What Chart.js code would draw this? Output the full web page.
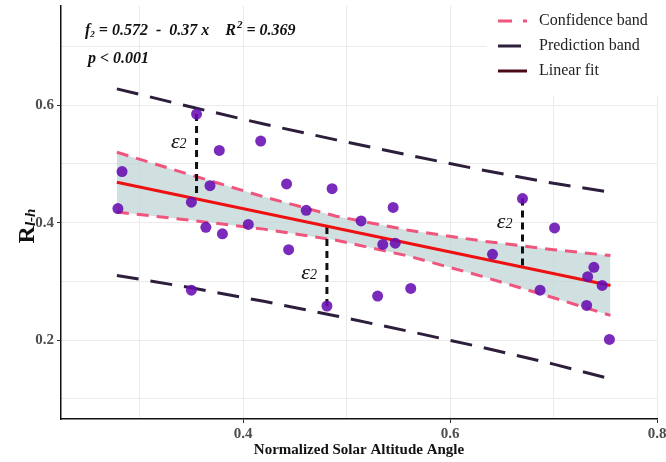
<!DOCTYPE html>
<html>
<head>
<meta charset="UTF-8">
<title>R l-h vs Normalized Solar Altitude Angle</title>
<script src="https://cdn.jsdelivr.net/npm/chart.js"></script>
<style>
  html, body { margin: 0; padding: 0; background: #fff; }
  #wrap { width: 666px; height: 462px; }
</style>
</head>
<body>
<div id="wrap"><canvas id="chart"></canvas></div>
<script>
  // observed points
  const pointX = [0.355, 0.417, 0.377, 0.283, 0.442, 0.486, 0.368, 0.461, 0.350, 0.279,
                  0.405, 0.364, 0.380, 0.444, 0.350, 0.481, 0.545, 0.514, 0.535, 0.547,
                  0.641, 0.562, 0.530, 0.670, 0.701, 0.739, 0.733, 0.747, 0.687, 0.732, 0.754];
  const pointY = [0.585, 0.539, 0.523, 0.487, 0.466, 0.458, 0.463, 0.421, 0.435, 0.424,
                  0.397, 0.392, 0.381, 0.354, 0.285, 0.258, 0.426, 0.403, 0.363, 0.365,
                  0.346, 0.288, 0.275, 0.441, 0.391, 0.324, 0.308, 0.293, 0.285, 0.259, 0.201];

  // bands
  const bandX     = [0.278, 0.35, 0.42, 0.49, 0.56, 0.63, 0.70, 0.755];
  const confUpper = [0.520, 0.481, 0.444, 0.411, 0.387, 0.369, 0.354, 0.344];
  const confLower = [0.418, 0.404, 0.389, 0.370, 0.343, 0.309, 0.272, 0.242];
  const predUpper = [0.628, 0.597, 0.568, 0.541, 0.515, 0.490, 0.467, 0.452];
  const predLower = [0.310, 0.289, 0.266, 0.241, 0.215, 0.188, 0.159, 0.134];

  // linear fit
  const fitX = [0.278, 0.755];
  const fitY = [0.469, 0.293];

  // residuals marked with epsilon
  const residX      = [0.355, 0.481, 0.670];
  const residPointY = [0.585, 0.258, 0.441];
  const residFitY   = [0.441, 0.394, 0.324];
  const residLabelY = [0.537, 0.314, 0.400];

  const xTicks = [0.4, 0.6, 0.8];
  const yTicks = [0.2, 0.4, 0.6];
  const xGrid = [0.3, 0.4, 0.5, 0.6, 0.7, 0.8];
  const yGrid = [0.1, 0.2, 0.3, 0.4, 0.5, 0.6, 0.7];

  const serif = "'Liberation Serif', 'DejaVu Serif', serif";
  const zip = (xs, ys) => xs.map((v, i) => ({ x: v, y: ys[i] }));
  const isMajor = (list, v) => list.some(t => Math.abs(t - v) < 1e-6);

  const lineDs = (data, color, width, dash) => ({
    data, showLine: true, pointRadius: 0, borderColor: color,
    borderWidth: width, borderDash: dash, fill: false, tension: 0
  });

  const datasets = [
    {
      data: zip(pointX, pointY),
      pointRadius: 5.5,
      pointBackgroundColor: 'rgba(104, 14, 178, 0.88)',
      pointBorderWidth: 0,
      showLine: false
    },
    lineDs(zip(fitX, fitY), '#ee1111', 3, []),
  ];
  residX.forEach((rx, i) => {
    datasets.push(lineDs([{ x: rx, y: residPointY[i] }, { x: rx, y: residFitY[i] }], '#111', 3, [7, 5]));
  });
  datasets.push(Object.assign(lineDs(zip(bandX, confUpper), '#f0557d', 3, [12, 8]), {
    fill: '+1', backgroundColor: 'rgba(190, 210, 212, 0.72)'
  }));
  datasets.push(lineDs(zip(bandX, confLower), '#f0557d', 3, [12, 8]));
  datasets.push(lineDs(zip(bandX, predUpper), '#2d1e3c', 3, [22, 12]));
  datasets.push(lineDs(zip(bandX, predLower), '#2d1e3c', 3, [22, 12]));

  const overlay = {
    id: 'overlay',
    afterDraw(chart) {
      const { ctx, scales: { x, y }, chartArea } = chart;
      ctx.save();

      // epsilon labels
      ctx.fillStyle = '#111';
      ctx.textBaseline = 'middle';
      residX.forEach((rx, i) => {
        const px = x.getPixelForValue(rx) - 10;
        const py = y.getPixelForValue(residLabelY[i]);
        ctx.font = 'italic 14px ' + serif;
        const w2 = ctx.measureText('2').width;
        ctx.textAlign = 'right';
        ctx.fillText('2', px, py + 2);
        ctx.font = 'italic 22px ' + serif;
        ctx.fillText('\u03B5', px - w2, py);
      });

      // legend box
      ctx.fillStyle = '#fff';
      ctx.fillRect(487, 0, 179, 96);
      const rows = [
        { label: 'Confidence band', y: 21 },
        { label: 'Prediction band', y: 46 },
        { label: 'Linear fit', y: 71 }
      ];
      ctx.lineWidth = 3;
      ctx.strokeStyle = '#f0557d';
      ctx.beginPath();
      ctx.moveTo(498, rows[0].y); ctx.lineTo(512, rows[0].y);
      ctx.moveTo(523, rows[0].y); ctx.lineTo(527, rows[0].y);
      ctx.stroke();
      ctx.strokeStyle = '#2d1e3c';
      ctx.beginPath(); ctx.moveTo(498, rows[1].y); ctx.lineTo(521, rows[1].y); ctx.stroke();
      ctx.strokeStyle = '#4b0a16';
      ctx.beginPath(); ctx.moveTo(498, rows[2].y); ctx.lineTo(527, rows[2].y); ctx.stroke();
      ctx.fillStyle = '#222';
      ctx.font = '16px ' + serif;
      ctx.textAlign = 'left';
      rows.forEach(r => ctx.fillText(r.label, 539, r.y));

      // regression text
      ctx.fillStyle = '#111';
      ctx.textAlign = 'left';
      let cx = 85;
      const ty = 31;
      const big = 'italic bold 16px ' + serif;
      const small = 'italic bold 9px ' + serif;
      ctx.font = big; ctx.fillText('f', cx, ty); cx += ctx.measureText('f').width;
      ctx.font = small; ctx.fillText('2', cx, ty + 4); cx += ctx.measureText('2').width;
      ctx.font = big;
      const s1 = ' = 0.572  -  0.37 x    R';
      ctx.fillText(s1, cx, ty); cx += ctx.measureText(s1).width + 1;
      ctx.font = 'italic bold 11px ' + serif; ctx.fillText('2', cx, ty - 6); cx += ctx.measureText('2').width;
      ctx.font = big; ctx.fillText(' = 0.369', cx, ty);
      ctx.fillText('p < 0.001', 88, 59);

      // axis titles
      ctx.font = 'bold 15px ' + serif;
      ctx.textAlign = 'center';
      ctx.fillText('Normalized Solar Altitude Angle', (chartArea.left + chartArea.right) / 2, 450);

      ctx.translate(28, 226);
      ctx.rotate(-Math.PI / 2);
      ctx.font = 'bold 24px ' + serif;
      const wr = ctx.measureText('R').width;
      ctx.font = 'italic bold 15px ' + serif;
      const ws = ctx.measureText('l-h').width;
      const start = -(wr + ws) / 2;
      ctx.textAlign = 'left';
      ctx.font = 'bold 24px ' + serif;
      ctx.fillText('R', start, 0);
      ctx.font = 'italic bold 15px ' + serif;
      ctx.fillText('l-h', start + wr, 3);

      ctx.restore();
    }
  };

  new Chart(document.getElementById('chart'), {
    type: 'scatter',
    data: { datasets },
    options: {
      responsive: true,
      maintainAspectRatio: false,
      animation: false,
      layout: { padding: { left: 0, right: 9, top: 0, bottom: 0 } },
      plugins: {
        legend: { display: false },
        tooltip: { enabled: false },
        filler: { drawTime: 'beforeDatasetsDraw' }
      },
      scales: {
        x: {
          type: 'linear',
          min: 0.224,
          max: 0.8,
          afterBuildTicks: s => { s.ticks = xGrid.map(v => ({ value: v })); },
          afterFit: s => { s.height = 43; s.paddingLeft = 0; s.paddingRight = 0; },
          ticks: {
            autoSkip: false,
            maxRotation: 0,
            padding: 2,
            color: '#4d4d4d',
            font: { family: serif, size: 15, weight: 'bold' },
            callback: v => isMajor(xTicks, v) ? v.toFixed(1) : ''
          },
          grid: {
            color: '#ebebeb',
            lineWidth: 1,
            tickLength: 4,
            tickColor: c => (c.tick && isMajor(xTicks, c.tick.value)) ? '#333' : 'rgba(0,0,0,0)'
          },
          border: { display: true, color: '#111', width: 1.5 }
        },
        y: {
          type: 'linear',
          min: 0.0655,
          max: 0.770,
          afterBuildTicks: s => { s.ticks = yGrid.map(v => ({ value: v })); },
          afterFit: s => { s.width = 61; s.paddingTop = 0; s.paddingBottom = 0; },
          ticks: {
            autoSkip: false,
            padding: 3,
            color: '#4d4d4d',
            font: { family: serif, size: 15, weight: 'bold' },
            callback: v => isMajor(yTicks, v) ? v.toFixed(1) : ''
          },
          grid: {
            color: '#ebebeb',
            lineWidth: 1,
            tickLength: 4,
            tickColor: c => (c.tick && isMajor(yTicks, c.tick.value)) ? '#333' : 'rgba(0,0,0,0)'
          },
          border: { display: true, color: '#111', width: 1.5 }
        }
      }
    },
    plugins: [overlay]
  });
</script>
</body>
</html>
